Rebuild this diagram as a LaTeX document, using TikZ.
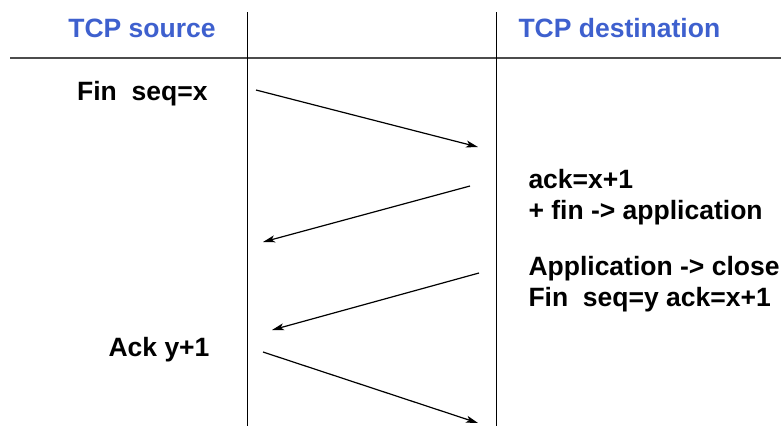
\documentclass[tikz,border=0pt]{standalone}
\usepackage{fontspec}
\setmainfont{Liberation Sans}
\usetikzlibrary{%
  arrows,%
  arrows.meta,%
  positioning,%
  calc%
}
\definecolor{headblue}{RGB}{62,96,206}

\begin{document}
\begin{tikzpicture}[
  x=1pt, y=-1pt,
  font=\fontsize{26.5}{31}\selectfont\bfseries,
  >={Stealth[length=12pt,width=7pt,inset=3pt]},
  line width=1pt,
  head/.style={inner sep=0pt, text=headblue},
  msg/.style={inner sep=0pt, text=black},
  packet/.style={->, line width=1.2pt}
]
\useasboundingbox (0,0) rectangle (781,426);

% table lines
\draw[line width=2pt, black!70] (10,58) -- (781,58);
\draw (247,12) -- (247,426);
\draw (496,12) -- (496,426);

% headings
\node[head, anchor=base] (src) at (142,37) {TCP source};
\node[head, anchor=base west] (dst) at (518,37) {TCP destination};

% labels
\node[msg, anchor=base east] (fin1) at (208,100) {Fin\ \ seq=x};
\node[msg, anchor=base west] (ack1) at (528,188) {ack=x+1};
\node[msg, anchor=base west] (ack2) at (528,219) {+ fin -> application};
\node[msg, anchor=base west] (fin2) at (528,275) {Application -> close};
\node[msg, anchor=base west] (fin3) at (528,306) {Fin\ \ seq=y ack=x+1};
\node[msg, anchor=base east] (ack3) at (210,356) {Ack y+1};

% message end points
\coordinate (s1) at (256,90);
\coordinate (d1) at (478,147);
\coordinate (d2) at (470,186);
\coordinate (s2) at (263,242);
\coordinate (d3) at (479,273);
\coordinate (s3) at (272,330);
\coordinate (s4) at (263,352);
\coordinate (d4) at (478,423);

\draw[packet] (s1) -- (d1);
\draw[packet] (d2) -- (s2);
\draw[packet] (d3) -- (s3);
\draw[packet] (s4) -- (d4);

\end{tikzpicture}
\end{document}
